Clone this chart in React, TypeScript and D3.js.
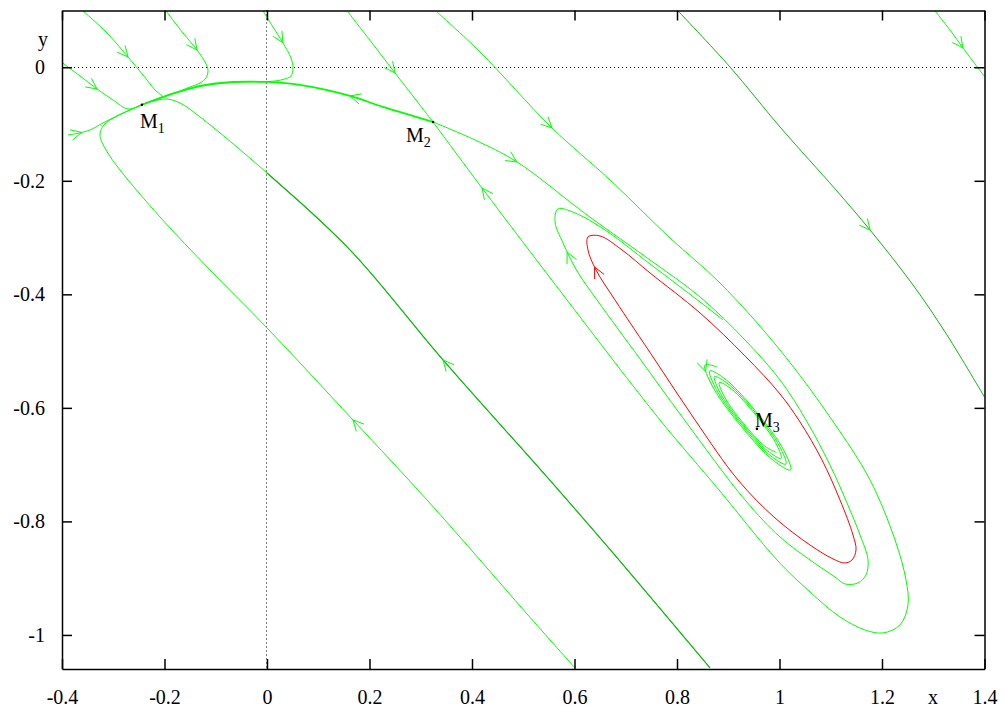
import React, { useEffect, useRef } from "react";
import * as d3 from "d3";

type Pt = [number, number];

// axis ticks
const xTicks = [-0.4, -0.2, 0, 0.2, 0.4, 0.6, 0.8, 1, 1.2, 1.4];
const xTickLabels = ["-0.4", "-0.2", "0", "0.2", "0.4", "0.6", "0.8", "1", "1.2", "1.4"];
const yTicks = [0, -0.2, -0.4, -0.6, -0.8, -1];
const yTickLabels = ["0", "-0.2", "-0.4", "-0.6", "-0.8", "-1"];

// equilibrium points
const M1: Pt = [-0.244, -0.066];
const M2: Pt = [0.324, -0.0964];
const M3: Pt = [0.956, -0.637];

const outerOrbit: Pt[] = [
  [0.3317, 0.0974], [0.4156, 0.027], [0.5561, -0.1069], [0.6693, -0.1985],
  [0.7863, -0.3007], [0.8839, -0.38], [1.001, -0.498], [1.1024, -0.6213],
  [1.1766, -0.727], [1.2254, -0.8327], [1.2468, -0.9031], [1.2507, -0.9472],
  [1.2351, -0.9824], [1.202, -0.9965], [1.1668, -0.9912], [1.118, -0.9683],
  [1.0595, -0.9243], [0.9951, -0.8679], [0.882, -0.7446], [0.7668, -0.6213],
  [0.5854, -0.4099], [0.4195, -0.2126], M2,
];
const m2StableTop: Pt[] = [[0.158, 0.0974], [0.2049, 0.0428], [0.2498, -0.01], M2];
const m2Unstable: Pt[] = [
  M2, [0.4059, -0.1281], [0.4878, -0.1668], [0.6244, -0.2602], [0.7473, -0.3394],
  [0.8449, -0.4046], [0.9327, -0.4804], [1.001, -0.5508], [1.0517, -0.6213],
  [1.0985, -0.7006], [1.1317, -0.7675], [1.1571, -0.8239], [1.1727, -0.8679],
  [1.1688, -0.8943], [1.1532, -0.9084], [1.1278, -0.9102], [1.1083, -0.8979],
  [1.0595, -0.8679], [1.001, -0.8274], [0.9327, -0.7622], [0.8117, -0.6178],
  [0.7278, -0.5138], [0.6439, -0.4099], [0.6049, -0.3589], [0.5776, -0.3095],
  [0.562, -0.2725], [0.5678, -0.2496], [0.601, -0.2567], [0.6595, -0.2866],
  [0.7473, -0.3465], [0.8449, -0.4134], [0.8898, -0.4451],
];
const limitCycle: Pt[] = [
  [0.6263, -0.2989], [0.6498, -0.2972], [0.6927, -0.3218], [0.7473, -0.3623],
  [0.8449, -0.4328], [0.9327, -0.5085], [1.001, -0.5755], [1.04, -0.6248],
  [1.0829, -0.6917], [1.118, -0.7622], [1.1434, -0.8239], [1.1493, -0.8503],
  [1.1415, -0.8679], [1.1278, -0.8732], [1.1044, -0.8661], [1.0595, -0.8415],
  [0.9912, -0.7939], [0.919, -0.727], [0.8351, -0.6213], [0.7571, -0.5156],
  [0.679, -0.4099], [0.642, -0.3571], [0.6263, -0.3218],
];
const m1Upper: Pt[] = [
  M2, [0.2263, -0.0699], [0.162, -0.0506], [0.0644, -0.0312], [0, -0.0259],
  [-0.0663, -0.0259], [-0.1307, -0.0329], [-0.1795, -0.0453], [-0.2088, -0.0541], M1,
];
const fromLeft: Pt[] = [
  [-0.3883, -0.1192], [-0.3707, -0.1166], [-0.3454, -0.1104], [-0.32, -0.0981],
  [-0.2927, -0.0858], [-0.2673, -0.0752], M1,
];
const fromLeftTop: Pt[] = [
  [-0.4, 0.0085], [-0.3649, -0.0153], [-0.3317, -0.0382], [-0.3005, -0.0576],
  [-0.2712, -0.0735], M1,
];
const fromTopA: Pt[] = [
  [-0.359, 0.0992], [-0.3122, 0.0604], [-0.2712, 0.0181], [-0.242, -0.0136],
  [-0.2185, -0.04], [-0.2049, -0.0523], [-0.2244, -0.0594], M1,
];
const fromTopB: Pt[] = [
  [-0.1971, 0.0992], [-0.1639, 0.0604], [-0.1366, 0.0305], [-0.121, 0.0093],
  [-0.1151, -0.0048], [-0.119, -0.0188], [-0.1307, -0.0277], [-0.1502, -0.0347],
  [-0.1795, -0.0453], [-0.2088, -0.0541], M1,
];
const fromTopC: Pt[] = [
  [-0.0078, 0.0992], [0.0117, 0.071], [0.0312, 0.0428], [0.0468, 0.0164],
  [0.0507, -0.0012], [0.0468, -0.0153], [0.0312, -0.0215], [0.0059, -0.025],
  [-0.0663, -0.0268], [-0.1307, -0.0338], [-0.1795, -0.0453], [-0.2088, -0.0541], M1,
];
const m1StableLow: Pt[] = [
  [0.8644, -1.0581], [0.6751, -0.8556], [0.5463, -0.7217], [0.3434, -0.5156],
  [0.162, -0.3218], [0, -0.1862], [-0.1307, -0.0875], [-0.1698, -0.0629],
  [-0.199, -0.0558], M1,
];
const fromBottom: Pt[] = [
  [0.601, -1.0581], [0.5073, -0.963], [0.4156, -0.8679], [0.3122, -0.7622],
  [0.1678, -0.6213], [0, -0.4592], [-0.1112, -0.3571], [-0.2088, -0.2637],
  [-0.2868, -0.1809], [-0.3141, -0.1457], [-0.3259, -0.1192], [-0.318, -0.1016],
  [-0.2927, -0.0858], [-0.2673, -0.0752], M1,
];
const cornerRight: Pt[] = [
  [1.3034, 0.0992], [1.3327, 0.0657], [1.358, 0.034], [1.3873, -0.0012], [1.401, -0.0171],
];
const rightLine: Pt[] = [
  [0.802, 0.0992], [0.9034, 0.0005], [1.001, -0.1052], [1.1102, -0.2161],
  [1.1766, -0.2866], [1.2605, -0.3835], [1.3268, -0.4716], [1.401, -0.5825],
];
const focusSpiral: Pt[] = [
  [0.878, -0.5279], [0.8546, -0.5244], [0.8691, -0.5618], [0.9243, -0.6315],
  [0.9875, -0.6923], [1.0217, -0.7094], [1.008, -0.674], [0.9557, -0.6082],
  [0.8962, -0.5508], [0.8639, -0.5347], [0.8769, -0.5681], [0.9262, -0.6301],
  [0.9822, -0.6841], [1.0124, -0.6991], [1.0001, -0.6677], [0.9539, -0.6095],
  [0.9015, -0.5591], [0.8732, -0.545], [0.8848, -0.5745], [0.928, -0.6288],
  [0.9769, -0.6758], [1.0031, -0.6888], [0.9923, -0.6613], [0.9521, -0.6109],
  [0.9068, -0.5673], [0.8826, -0.5554], [0.8927, -0.5808], [0.9298, -0.6275],
  [0.9715, -0.6676], [0.9938, -0.6785],
];

// darkUntilX: the part of the curve before it reaches this x is drawn darker
const curves: { id: string; pts: Pt[]; width?: number; dark?: boolean; darkUntilX?: number }[] = [
  { id: "outerOrbit", pts: outerOrbit },
  { id: "m2StableTop", pts: m2StableTop },
  { id: "m2Unstable", pts: m2Unstable },
  { id: "m1Upper", pts: m1Upper, width: 1.8 },
  { id: "fromLeft", pts: fromLeft },
  { id: "fromLeftTop", pts: fromLeftTop },
  { id: "fromTopA", pts: fromTopA },
  { id: "fromTopB", pts: fromTopB },
  { id: "fromTopC", pts: fromTopC },
  { id: "m1StableLow", pts: m1StableLow, darkUntilX: 0 },
  { id: "fromBottom", pts: fromBottom },
  { id: "cornerRight", pts: cornerRight },
  { id: "rightLine", pts: rightLine, dark: true },
  { id: "focusSpiral", pts: focusSpiral },
];

// arrow heads: curve and the point where the head sits
const arrows: { curve: string; at: Pt }[] = [
  { curve: "fromTopA", at: [-0.2712, 0.0181] },
  { curve: "fromTopB", at: [-0.1366, 0.0305] },
  { curve: "fromTopC", at: [0.0312, 0.0428] },
  { curve: "fromLeftTop", at: [-0.3317, -0.0382] },
  { curve: "fromLeft", at: [-0.361, -0.1157] },
  { curve: "m2StableTop", at: [0.2498, -0.01] },
  { curve: "m1Upper", at: [0.162, -0.0506] },
  { curve: "m2Unstable", at: [0.4878, -0.1668] },
  { curve: "outerOrbit", at: [0.5561, -0.1069] },
  { curve: "outerOrbit", at: [0.4195, -0.2126] },
  { curve: "m2Unstable", at: [0.5873, -0.3254] },
  { curve: "limitCycle", at: [0.6361, -0.3535] },
  { curve: "m1StableLow", at: [0.3434, -0.5156] },
  { curve: "fromBottom", at: [0.1678, -0.6213] },
  { curve: "rightLine", at: [1.1766, -0.2866] },
  { curve: "cornerRight", at: [1.358, 0.034] },
  { curve: "focusSpiral", at: [0.8527, -0.5367] },
];

const points = [
  { pt: M1, sub: "1", dx: -2, dy: 23 },
  { pt: M2, sub: "2", dx: -27, dy: 20 },
  { pt: M3, sub: "3", dx: -2, dy: -2 },
];

const FONT = "'Liberation Serif', 'DejaVu Serif', serif";
const GREEN = "#00ff00";
const DARK = "#0fb40f";
const RED = "#ff0000";

export default function App() {
  const svgRef = useRef<SVGSVGElement>(null);

  useEffect(() => {
    const svg = d3.select(svgRef.current);
    svg.selectAll("*").remove();

    const left = 62, right = 984.5, top = 10.5, bottom = 669;
    const x = d3.scaleLinear().domain([-0.4, 1.4]).range([left, right]);
    const y = d3.scaleLinear().domain([-1.06, 0.1]).range([bottom, top]);

    svg.append("rect").attr("width", 1004).attr("height", 714).attr("fill", "#fff");

    svg.append("defs").append("clipPath").attr("id", "plot")
      .append("rect").attr("x", left).attr("y", top)
      .attr("width", right - left).attr("height", bottom - top);

    // zero lines
    const zx = Math.round(x(0)) - 0.5, zy = Math.round(y(0)) + 0.5;
    const zero = svg.append("g").attr("stroke", "#000").attr("stroke-width", 1)
      .attr("stroke-dasharray", "1,3");
    zero.append("line").attr("x1", left).attr("x2", right).attr("y1", zy).attr("y2", zy);
    zero.append("line").attr("x1", zx).attr("x2", zx).attr("y1", top).attr("y2", bottom);

    // trajectories
    const line = d3.line<Pt>().x((d) => x(d[0])).y((d) => y(d[1]))
      .curve(d3.curveCatmullRom.alpha(0.5));
    const closed = d3.line<Pt>().x((d) => x(d[0])).y((d) => y(d[1]))
      .curve(d3.curveCatmullRomClosed.alpha(0.5));

    const plot = svg.append("g").attr("clip-path", "url(#plot)").attr("fill", "none");
    const nodes: Record<string, SVGPathElement> = {};
    curves.forEach((c) => {
      const node = plot.append("path").attr("d", line(c.pts))
        .attr("stroke", c.dark ? DARK : GREEN).attr("stroke-width", c.width ?? 1)
        .node() as SVGPathElement;
      nodes[c.id] = node;
      if (c.darkUntilX !== undefined) {
        const L = node.getTotalLength();
        let split = 0;
        const px = x(c.darkUntilX);
        for (let l = 0; l <= L; l += 1) {
          if (node.getPointAtLength(l).x <= px) { split = l; break; }
        }
        plot.append("path").attr("d", line(c.pts))
          .attr("stroke", DARK).attr("stroke-width", 1.1)
          .attr("stroke-dasharray", `${split} ${L}`);
      }
    });
    nodes.limitCycle = plot.append("path").attr("d", closed(limitCycle))
      .attr("stroke", RED).attr("stroke-width", 1).node() as SVGPathElement;

    // arrow heads along the flow
    const headLen = 12, headAng = (26 * Math.PI) / 180;
    arrows.forEach((a) => {
      const node = nodes[a.curve];
      const tx = x(a.at[0]), ty = y(a.at[1]);
      const L = node.getTotalLength();
      let best = 0, bd = Infinity;
      for (let l = 0; l <= L; l += 0.5) {
        const p = node.getPointAtLength(l);
        const dd = (p.x - tx) ** 2 + (p.y - ty) ** 2;
        if (dd < bd) { bd = dd; best = l; }
      }
      const p = node.getPointAtLength(best);
      const p0 = node.getPointAtLength(Math.max(0, best - 3));
      const p1 = node.getPointAtLength(Math.min(L, best + 3));
      const back = Math.atan2(p1.y - p0.y, p1.x - p0.x) + Math.PI;
      const b1 = [p.x + headLen * Math.cos(back + headAng), p.y + headLen * Math.sin(back + headAng)];
      const b2 = [p.x + headLen * Math.cos(back - headAng), p.y + headLen * Math.sin(back - headAng)];
      plot.append("path")
        .attr("d", `M${b1[0]},${b1[1]}L${p.x},${p.y}L${b2[0]},${b2[1]}`)
        .attr("stroke", a.curve === "limitCycle" ? RED : GREEN)
        .attr("stroke-width", 1);
    });

    // axes (ticks point inwards on all four sides)
    const styleAxis = (g: d3.Selection<SVGGElement, unknown, null, undefined>) => {
      g.selectAll("path, line").attr("stroke", "#000").attr("stroke-width", 1.5);
      g.selectAll("text").attr("fill", "#000").attr("font-family", FONT).attr("font-size", 20);
    };
    svg.append("g").attr("transform", `translate(0,${bottom})`)
      .call(d3.axisBottom(x).tickValues(xTicks).tickSize(-10).tickSizeOuter(0).tickPadding(21)
        .tickFormat((_, i) => xTickLabels[i]))
      .call(styleAxis);
    svg.append("g").attr("transform", `translate(${left},0)`)
      .call(d3.axisLeft(y).tickValues(yTicks).tickSize(-10).tickSizeOuter(0).tickPadding(17)
        .tickFormat((_, i) => yTickLabels[i]))
      .call(styleAxis);
    svg.append("g").attr("transform", `translate(0,${top})`)
      .call(d3.axisTop(x).tickValues(xTicks).tickSize(-10).tickSizeOuter(0).tickFormat(() => ""))
      .call(styleAxis);
    svg.append("g").attr("transform", `translate(${right},0)`)
      .call(d3.axisRight(y).tickValues(yTicks).tickSize(-10).tickSizeOuter(0).tickFormat(() => ""))
      .call(styleAxis);

    // axis names
    svg.append("text").attr("x", 933).attr("y", 704).attr("text-anchor", "middle")
      .attr("font-family", FONT).attr("font-size", 20).text("x");
    svg.append("text").attr("x", 43).attr("y", 46).attr("text-anchor", "middle")
      .attr("font-family", FONT).attr("font-size", 20).text("y");

    // equilibrium points and labels
    points.forEach((m) => {
      svg.append("circle").attr("cx", x(m.pt[0])).attr("cy", y(m.pt[1])).attr("r", 1.3).attr("fill", "#000");
      const t = svg.append("text").attr("x", x(m.pt[0]) + m.dx).attr("y", y(m.pt[1]) + m.dy)
        .attr("font-family", FONT).attr("font-size", 20).text("M");
      t.append("tspan").attr("font-size", 14).attr("dy", 5).text(m.sub);
    });
  }, []);

  return (
    <svg ref={svgRef} width={1004} height={714}
      style={{ position: "absolute", left: 0, top: 0, display: "block" }} />
  );
}
